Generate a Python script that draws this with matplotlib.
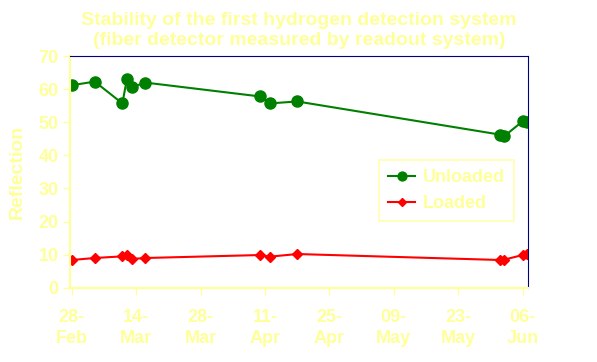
import pandas as pd
import matplotlib
matplotlib.use('Agg')
import matplotlib.pyplot as plt
import matplotlib.dates as mdates

# measurement dates (year not shown on chart, 28-Feb + 14 = 14-Mar -> non-leap)
dates = pd.to_datetime(['2005-02-28', '2005-03-05', '2005-03-11', '2005-03-12',
                        '2005-03-13', '2005-03-16', '2005-04-10', '2005-04-12',
                        '2005-04-18', '2005-06-01', '2005-06-02', '2005-06-06',
                        '2005-06-07'])
unloaded = [61.2, 62.3, 55.7, 63.2, 60.6, 62.0, 57.8, 55.7, 56.3, 46.3, 45.8, 50.3, 50.0]
loaded = [8.4, 9.0, 9.5, 9.9, 8.7, 9.0, 9.9, 9.4, 10.2, 8.4, 8.5, 9.9, 10.2]
tick_dates = pd.date_range('2005-02-28', '2005-06-06', freq='14D')

yellow = '#FFFF99'
navy = '#000080'
plt.rcParams['font.family'] = ['Liberation Sans', 'DejaVu Sans']
plt.rcParams['font.weight'] = 'bold'

fig, ax = plt.subplots(figsize=(5.97, 3.62), dpi=100)
fig.subplots_adjust(left=0.117, right=0.885, top=0.845, bottom=0.205)

ax.plot(dates, unloaded, color='#008000', marker='o', markersize=8, lw=1.5, label='Unloaded')
ax.plot(dates, loaded, color='#FF0000', marker='D', markersize=5.5, lw=1.5, label='Loaded')

ax.set_ylim(0, 70)
ax.set_yticks(range(0, 71, 10))
ax.set_xlim(pd.Timestamp('2005-02-28') - pd.Timedelta(hours=10),
            pd.Timestamp('2005-06-07') + pd.Timedelta(hours=6))
ax.set_xticks(tick_dates)
ax.xaxis.set_major_formatter(mdates.DateFormatter('%d-\n%b'))

ax.tick_params(axis='both', colors=yellow, labelsize=13, length=5, width=1)
ax.tick_params(axis='x', pad=10)
ax.tick_params(axis='y', pad=3)
for lbl in ax.get_xticklabels() + ax.get_yticklabels():
    lbl.set_fontweight('bold')
    lbl.set_linespacing(1.3)

ax.spines['left'].set_color(yellow)
ax.spines['bottom'].set_color(yellow)
ax.spines['left'].set_linewidth(1.5)
ax.spines['bottom'].set_linewidth(1.5)
ax.spines['top'].set_color(navy)
ax.spines['right'].set_color(navy)

ax.set_ylabel('Reflection', color=yellow, fontsize=14, fontweight='bold', labelpad=9)
ax.set_title('Stability of the first hydrogen detection system\n'
             '(fiber detector measured by readout system)',
             color=yellow, fontsize=14, fontweight='bold', pad=8, linespacing=1.2)

leg = ax.legend(loc='upper left', bbox_to_anchor=(0.655, 0.59), fontsize=13,
                frameon=True, fancybox=False, handlelength=1.5, markerscale=0.8,
                borderpad=0.5, labelspacing=0.5, handletextpad=0.4)
leg.get_frame().set_edgecolor(yellow)
leg.get_frame().set_linewidth(1.2)
for t in leg.get_texts():
    t.set_color(yellow)
    t.set_fontweight('bold')

fig.savefig('out.png', dpi=100)
